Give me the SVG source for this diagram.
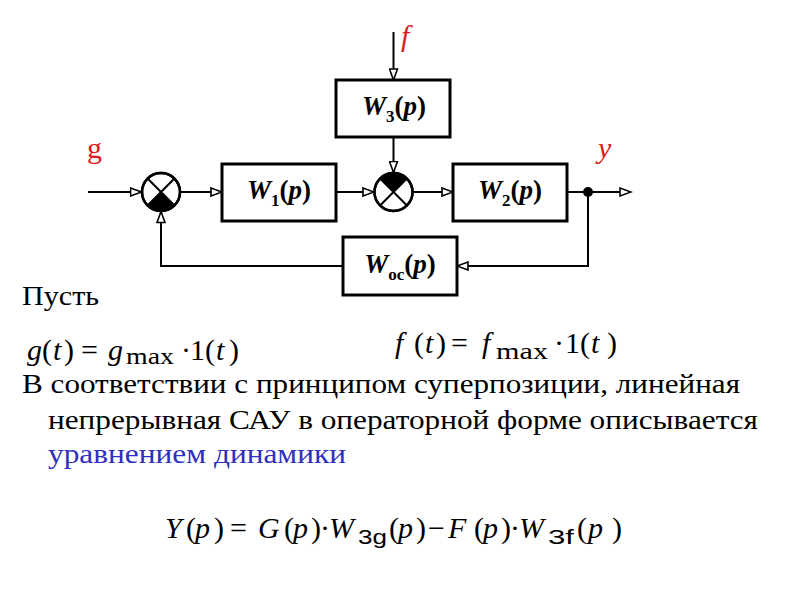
<svg xmlns="http://www.w3.org/2000/svg" width="800" height="600" viewBox="0 0 800 600">
<style>
.box{fill:#fff;stroke:#000;stroke-width:3}
.ln{fill:none;stroke:#000;stroke-width:2}
.sum{fill:#fff;stroke:#000;stroke-width:2.5}
.x{stroke:#000;stroke-width:2}
.lbl{font-family:"Liberation Serif","Times New Roman","DejaVu Serif",serif;font-size:27px;font-weight:bold}
.sub{font-size:17px}
.it{font-style:italic}
.sig{font-family:"Liberation Serif","Times New Roman","DejaVu Serif",serif;font-size:30px;fill:#e01b1b}
.tx{font-family:"Liberation Serif","Times New Roman","DejaVu Serif",serif;font-size:28px;fill:#000}
.m{font-family:"Liberation Serif","Times New Roman","DejaVu Serif",serif;font-size:30px;fill:#000}
.ms{font-family:"Liberation Serif","Times New Roman","DejaVu Serif",serif;font-size:24px;fill:#000}
.ss{font-family:"Liberation Sans",Arial,sans-serif;font-size:20px;fill:#000}
.blue{fill:#3030c0}
</style>
<defs>
<marker id="arr" markerUnits="userSpaceOnUse" viewBox="-1 -1 14 10" refX="11" refY="4" markerWidth="14" markerHeight="10" orient="auto">
<path d="M0,0 L11,4 L0,8 Z" fill="#fff" stroke="#000" stroke-width="1.6"/>
</marker>
</defs>
<rect width="800" height="600" fill="#fff"/>

<g id="connectors">
<path class="ln" d="M88,192 H141.5" marker-end="url(#arr)"/>
<path class="ln" d="M180.5,192 H222" marker-end="url(#arr)"/>
<path class="ln" d="M336,192 H374" marker-end="url(#arr)"/>
<path class="ln" d="M413,192 H453" marker-end="url(#arr)"/>
<path class="ln" d="M567,192 H631" marker-end="url(#arr)"/>
<path class="ln" d="M393.5,32 V80" marker-end="url(#arr)"/>
<path class="ln" d="M393.5,137 V172.5" marker-end="url(#arr)"/>
<path class="ln" d="M588,192 V266 H457" marker-end="url(#arr)"/>
<path class="ln" d="M343,266 H161 V211.5" marker-end="url(#arr)"/>
<circle cx="588" cy="192" r="5" fill="#000"/>
</g>

<g id="sum1">
<circle class="sum" cx="161" cy="192" r="19"/>
<path d="M161,192 L174.43,205.43 A19,19 0 0 1 147.57,205.43 Z" fill="#000"/>
<line class="x" x1="147.57" y1="178.57" x2="174.43" y2="205.43"/>
<line class="x" x1="174.43" y1="178.57" x2="147.57" y2="205.43"/>
<circle cx="161" cy="192" r="19" fill="none" stroke="#000" stroke-width="2.5"/>
</g>

<g id="sum2">
<circle class="sum" cx="393.5" cy="192" r="19"/>
<path d="M393.5,192 L380.07,178.57 A19,19 0 0 1 406.93,178.57 Z" fill="#000"/>
<line class="x" x1="380.07" y1="178.57" x2="406.93" y2="205.43"/>
<line class="x" x1="406.93" y1="178.57" x2="380.07" y2="205.43"/>
<circle cx="393.5" cy="192" r="19" fill="none" stroke="#000" stroke-width="2.5"/>
</g>

<g id="W1">
<rect class="box" x="222" y="164" width="114" height="57"/>
<text class="lbl" x="279" y="199" text-anchor="middle"><tspan class="it">W</tspan><tspan class="sub" dy="7">1</tspan><tspan dy="-7">(</tspan><tspan class="it">p</tspan>)</text>
</g>

<g id="W2">
<rect class="box" x="453" y="164" width="114" height="57"/>
<text class="lbl" x="510" y="199" text-anchor="middle"><tspan class="it">W</tspan><tspan class="sub" dy="7">2</tspan><tspan dy="-7">(</tspan><tspan class="it">p</tspan>)</text>
</g>

<g id="W3">
<rect class="box" x="336" y="80" width="114" height="57"/>
<text class="lbl" x="394" y="115" text-anchor="middle"><tspan class="it">W</tspan><tspan class="sub" dy="7">3</tspan><tspan dy="-7">(</tspan><tspan class="it">p</tspan>)</text>
</g>

<g id="Woc">
<rect class="box" x="343" y="237" width="114" height="58"/>
<text class="lbl" x="400" y="273" text-anchor="middle"><tspan class="it">W</tspan><tspan class="sub" dy="7">ос</tspan><tspan dy="-7">(</tspan><tspan class="it">p</tspan>)</text>
</g>

<g id="signals">
<text class="sig it" x="401" y="46">f</text>
<text class="sig" x="87" y="158">g</text>
<text class="sig it" x="598" y="158">y</text>
</g>

<g id="text">
<text class="tx" x="22" y="305" textLength="77" lengthAdjust="spacingAndGlyphs">Пусть</text>

<text class="m it" x="27" y="360">g</text>
<text class="m" x="42" y="360">(</text>
<text class="m it" x="53" y="360">t</text>
<text class="m" x="64" y="360">)</text>
<text class="m" x="81" y="360">=</text>
<text class="m it" x="108" y="360">g</text>
<text class="ms" x="126" y="364" textLength="48" lengthAdjust="spacingAndGlyphs">max</text>
<text class="m" x="181" y="360">·</text>
<text class="m" x="190" y="360">1</text>
<text class="m" x="205" y="360">(</text>
<text class="m it" x="216" y="360">t</text>
<text class="m" x="229" y="360">)</text>

<text class="m it" x="395" y="353">f</text>
<text class="m" x="414" y="353">(</text>
<text class="m it" x="425" y="353">t</text>
<text class="m" x="436" y="353">)</text>
<text class="m" x="451" y="353">=</text>
<text class="m it" x="482" y="353">f</text>
<text class="ms" x="496" y="359" textLength="52" lengthAdjust="spacingAndGlyphs">max</text>
<text class="m" x="554" y="353">·</text>
<text class="m" x="565" y="353">1</text>
<text class="m" x="580" y="353">(</text>
<text class="m it" x="591" y="353">t</text>
<text class="m" x="607" y="353">)</text>

<text class="tx" x="22" y="393" textLength="718" lengthAdjust="spacingAndGlyphs">В соответствии с принципом суперпозиции, линейная</text>
<text class="tx" x="48" y="429" textLength="710" lengthAdjust="spacingAndGlyphs">непрерывная САУ в операторной форме описывается</text>
<text class="tx blue" x="48" y="463" textLength="298" lengthAdjust="spacingAndGlyphs">уравнением динамики</text>

<text class="m it" x="165" y="538">Y</text>
<text class="m" x="186" y="538">(</text>
<text class="m it" x="195" y="538">p</text>
<text class="m" x="214" y="538">)</text>
<text class="m" x="230" y="538">=</text>
<text class="m it" x="258" y="538">G</text>
<text class="m" x="284" y="538">(</text>
<text class="m it" x="293" y="538">p</text>
<text class="m" x="311" y="538">)</text>
<text class="m" x="320" y="538">·</text>
<text class="m it" x="329" y="538">W</text>
<text class="ss" x="358" y="544" textLength="29" lengthAdjust="spacingAndGlyphs">3g</text>
<text class="m" x="389" y="538">(</text>
<text class="m it" x="398" y="538">p</text>
<text class="m" x="416" y="538">)</text>
<text class="m" x="428" y="538">−</text>
<text class="m it" x="448" y="538">F</text>
<text class="m" x="474" y="538">(</text>
<text class="m it" x="483" y="538">p</text>
<text class="m" x="501" y="538">)</text>
<text class="m" x="510" y="538">·</text>
<text class="m it" x="519" y="538">W</text>
<text class="ss" x="548" y="544" textLength="26" lengthAdjust="spacingAndGlyphs">3f</text>
<text class="m" x="577" y="538">(</text>
<text class="m it" x="588" y="538">p</text>
<text class="m" x="612" y="538">)</text>
</g>
</svg>
